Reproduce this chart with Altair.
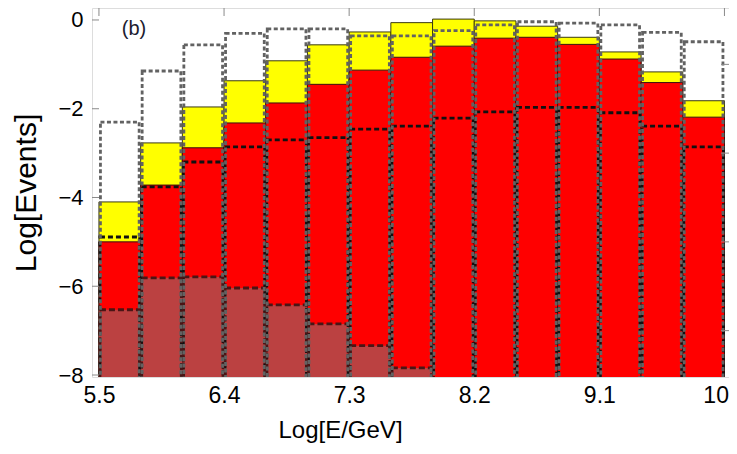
import altair as alt
import pandas as pd

# ---- data ----
bin_lo = [5.5, 5.8, 6.1, 6.4, 6.7, 7.0, 7.3, 7.6, 7.9, 8.2, 8.5, 8.8, 9.1, 9.4, 9.7]
bin_hi = [5.8, 6.1, 6.4, 6.7, 7.0, 7.3, 7.6, 7.9, 8.2, 8.5, 8.8, 9.1, 9.4, 9.7, 10.0]
gray_top = [-2.30, -1.15, -0.56, -0.30, -0.20, -0.20, -0.36, -0.36, -0.24, -0.11, -0.04, -0.07, -0.11, -0.28, -0.49]
yellow_top = [-4.10, -2.77, -1.96, -1.37, -0.92, -0.56, -0.27, -0.06, 0.02, -0.02, -0.14, -0.39, -0.72, -1.17, -1.82]
red_top = [-5.00, -3.72, -2.88, -2.32, -1.87, -1.45, -1.13, -0.84, -0.59, -0.41, -0.39, -0.55, -0.88, -1.41, -2.19]
mid_dashed = [-4.89, -3.76, -3.20, -2.86, -2.70, -2.65, -2.46, -2.39, -2.21, -2.07, -1.97, -1.97, -2.09, -2.39, -2.86]
brown_top = [-6.53, -5.81, -5.79, -6.04, -6.42, -6.85, -7.34, -7.84, None, None, None, None, None, None, None]

x_ticks = [5.5, 6.4, 7.3, 8.2, 9.1, 10]
y_ticks_left = [0, -2, -4, -6, -8]
y_ticks_right = [-1, -3, -5, -7]

df = pd.DataFrame({
    "lo": bin_lo, "hi": bin_hi, "gray": gray_top, "yellow": yellow_top,
    "red": red_top, "mid": mid_dashed, "brown": brown_top,
})
df_brown = df.dropna(subset=["brown"])

W, H = 637, 369
FONT = "Liberation Sans"

xs = alt.Scale(domain=[5.45, 5.45 + W / 139.0], nice=False, zero=False)
ys = alt.Scale(domain=[-8.045, 0.27], nice=False, zero=False)

xaxis = alt.Axis(values=x_ticks, labelExpr="datum.value == 10 ? '10' : format(datum.value, '.1f')",
                 title="Log[E/GeV]", ticks=False, domain=False, grid=False,
                 labelFont=FONT, labelFontSize=23, labelColor="black", labelPadding=7,
                 labelAlign={"condition": {"test": "datum.value == 10", "value": "right"}, "value": "center"},
                 labelOffset={"condition": {"test": "datum.value == 10", "value": 4}, "value": 0},
                 titleFont=FONT, titleFontSize=24, titleFontWeight="normal", titleColor="black",
                 titleX=248, titleY=60, titleAlign="center", titleBaseline="alphabetic")
yaxis = alt.Axis(values=y_ticks_left, title="Log[Events]", ticks=False, domain=False, grid=False,
                 labelFont=FONT, labelFontSize=22, labelColor="black", labelPadding=9,
                 titleFont=FONT, titleFontSize=30, titleFontWeight="normal", titleColor="black",
                 titleX=-66, titleY=H / 2, titleAlign="center", titleBaseline="middle", titleAngle=270)


def X(field="lo:Q"):
    return alt.X(field, scale=xs, axis=xaxis, title="Log[E/GeV]")


def Y(field):
    return alt.Y(field, scale=ys, axis=yaxis, title="Log[Events]")


base = alt.Chart(df)

yellow = base.mark_rect(fill="#FFFF00", stroke="#3a3a10", strokeWidth=1, clip=True).encode(
    x=X(), x2="hi:Q", y=Y("yellow:Q"), y2=alt.value(H + 3))
red = base.mark_rect(fill="#FF0000", stroke="#3a1010", strokeWidth=1, clip=True).encode(
    x=X(), x2="hi:Q", y=Y("red:Q"), y2=alt.value(H + 3))
brown = alt.Chart(df_brown).mark_rect(fill="#BB4141", clip=True).encode(
    x=X(), x2="hi:Q", y=Y("brown:Q"), y2=alt.value(H + 3))
mid = base.mark_rect(fill=None, stroke="#111111", strokeWidth=2.8, strokeDash=[5, 3], clip=True,
                     xOffset=1, x2Offset=-1).encode(
    x=X(), x2="hi:Q", y=Y("mid:Q"), y2=alt.value(H + 5))
brown_line = alt.Chart(df_brown).mark_rect(fill=None, stroke="#4a1515", strokeWidth=2.8,
                                           strokeDash=[6, 3], clip=True, xOffset=1, x2Offset=-1).encode(
    x=X(), x2="hi:Q", y=Y("brown:Q"), y2=alt.value(H + 5))
gray = base.mark_rect(fill=None, stroke="#626262", strokeWidth=2.8, strokeDash=[4, 2.5], clip=True,
                      xOffset=1.5, x2Offset=-1.5).encode(
    x=X(), x2="hi:Q", y=Y("gray:Q"), y2=alt.value(H + 5))

tick_color = "#8a8a8a"
left_ticks = alt.Chart(pd.DataFrame({"v": y_ticks_left})).mark_rule(color=tick_color, strokeWidth=1).encode(
    y=Y("v:Q"), x=alt.value(0), x2=alt.value(7))
right_ticks = alt.Chart(pd.DataFrame({"v": y_ticks_right})).mark_rule(color=tick_color, strokeWidth=1).encode(
    y=Y("v:Q"), x=alt.value(W - 8), x2=alt.value(W))
top_ticks = alt.Chart(pd.DataFrame({"lo": x_ticks})).mark_rule(color=tick_color, strokeWidth=1).encode(
    x=X(), y=alt.value(0), y2=alt.value(8))

label = alt.Chart(alt.Data(values=[{"t": "(b)"}])).mark_text(
    font=FONT, fontSize=20, color="#1c1c30", align="center", baseline="middle").encode(
    x=alt.value(42), y=alt.value(21), text="t:N")

chart = alt.layer(yellow, red, brown, mid, brown_line, gray, left_ticks, right_ticks, top_ticks, label).properties(
    width=W, height=H,
    autosize=alt.AutoSizeParams(type="none"),
    padding={"left": 84, "top": 0, "right": 0, "bottom": 68},
).configure_view(stroke="#999999", strokeWidth=1).configure(background="white")

chart.save("out.html", embed_options={"renderer": "svg", "actions": False})
